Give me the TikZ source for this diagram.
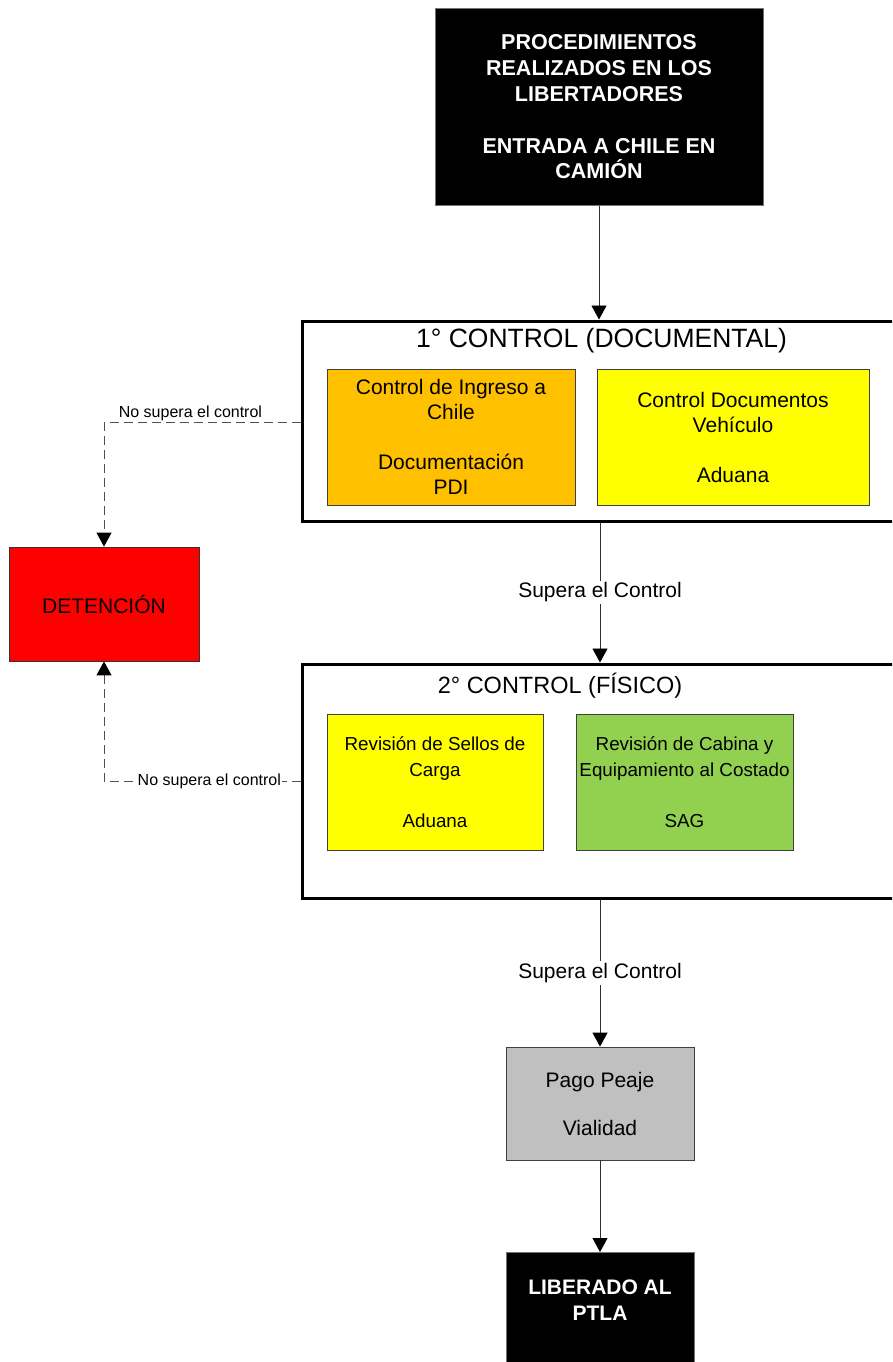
\documentclass[tikz,border=0pt]{standalone}
\usepackage{fontspec}
\setmainfont{Liberation Sans}
\usetikzlibrary{arrows.meta}
\definecolor{cOrange}{HTML}{FFC000}
\definecolor{cYellow}{HTML}{FFFF00}
\definecolor{cGreen}{HTML}{92D050}
\definecolor{cRed}{HTML}{FF0000}
\definecolor{cGray}{HTML}{C0C0C0}
\definecolor{cLine}{HTML}{303030}
\definecolor{cDash}{HTML}{505050}
\begin{document}
\begin{tikzpicture}[x=1pt,y=-1pt,
  blackbox/.style={fill=black, draw=black!55, line width=1pt, text=white, align=center,
    inner sep=0pt, font=\fontsize{21.5}{25.8}\selectfont\bfseries},
  frame/.style={draw=black, line width=3pt, fill=white, minimum width=593pt, inner sep=0pt},
  ttl/.style={inner sep=0pt},
  inbox/.style={draw=black!75, line width=0.8pt, align=center, inner sep=0pt,
    minimum height=136pt},
  tip/.style={-{Triangle[width=15pt,length=14pt,color=black,fill=black]}},
  arr/.style={draw=cLine, line width=0.9pt, tip},
  dasharr/.style={draw=cDash, line width=0.9pt, dash pattern=on 9pt off 5pt, tip},
  lbl/.style={font=\fontsize{21}{25}\selectfont, fill=white, inner sep=2pt},
  small/.style={font=\fontsize{16}{19}\selectfont, inner sep=1pt}
]
\useasboundingbox (0,0) rectangle (892,1362);
\clip (0,0) rectangle (892,1362);

% start
\node[blackbox, minimum width=328pt, minimum height=196pt] (top) at (599,107)
  {PROCEDIMIENTOS\\REALIZADOS EN LOS\\LIBERTADORES\\[25.8pt]ENTRADA A CHILE EN\\CAMIÓN};

% first control (documents)
\node[frame, minimum height=200pt] (c1) at (598.5,421) {};
\node[ttl, font=\fontsize{26.5}{30}\selectfont] (t1) at (601.5,341) {1° CONTROL (DOCUMENTAL)};
\node[inbox, fill=cOrange, minimum width=248pt, font=\fontsize{21}{25}\selectfont] (pdi) at (451,437)
  {Control de Ingreso a\\Chile\\[25pt]Documentación\\PDI};
\node[inbox, fill=cYellow, minimum width=272pt, font=\fontsize{21}{25}\selectfont] (adu1) at (733,437)
  {Control Documentos\\Vehículo\\[25pt]Aduana};

% detention
\node[draw=black!80, line width=0.8pt, fill=cRed, minimum width=190pt, minimum height=114pt,
  inner sep=0pt, font=\fontsize{21}{25}\selectfont] (det) at (104,604) {DETENCIÓN};

% second control (physical)
\node[frame, minimum height=234pt] (c2) at (598.5,781) {};
\node[ttl, font=\fontsize{23.5}{28}\selectfont] (t2) at (560,686) {2° CONTROL (FÍSICO)};
\node[inbox, fill=cYellow, minimum width=216pt, font=\fontsize{18.8}{25.5}\selectfont] (adu2) at (435,782)
  {Revisión de Sellos de\\Carga\\[25.5pt]Aduana};
\node[inbox, fill=cGreen, minimum width=217pt, font=\fontsize{18.8}{25.5}\selectfont] (sag) at (684.5,782)
  {Revisión de Cabina y\\Equipamiento al Costado\\[25.5pt]SAG};

% toll
\node[draw=black!75, line width=0.8pt, fill=cGray, minimum width=188pt, minimum height=113pt,
  inner sep=0pt, align=center, font=\fontsize{21}{24}\selectfont] (pago) at (600,1103.5)
  {Pago Peaje\\[24pt]Vialidad};

% release
\node[fill=black, draw=black!55, line width=1pt, minimum width=188pt, minimum height=120pt,
  anchor=north, inner sep=0pt] (lib) at (600,1252) {};
\node[blackbox, fill=none, draw=none, font=\fontsize{21}{26}\selectfont\bfseries] (libt) at (600,1300)
  {LIBERADO AL\\PTLA};

% connectors
\draw[arr] (top.south) -- (top.south |- c1.north);
\draw[arr] (c1.south -| pago.north) -- node[lbl, midway] {Supera el Control} (c2.north -| pago.north);
\draw[arr] (c2.south -| pago.north) -- node[lbl, midway] {Supera el Control} (pago.north);
\draw[arr] (pago.south) -- (lib.north);

\draw[dasharr] ([yshift=-1pt]c1.west) -| node[small, pos=0.28, above] {No supera el control} (det.north);
\draw[dasharr] (c2.west) -| node[small, pos=0.232, fill=white] {No supera el control} (det.south);
\end{tikzpicture}
\end{document}
